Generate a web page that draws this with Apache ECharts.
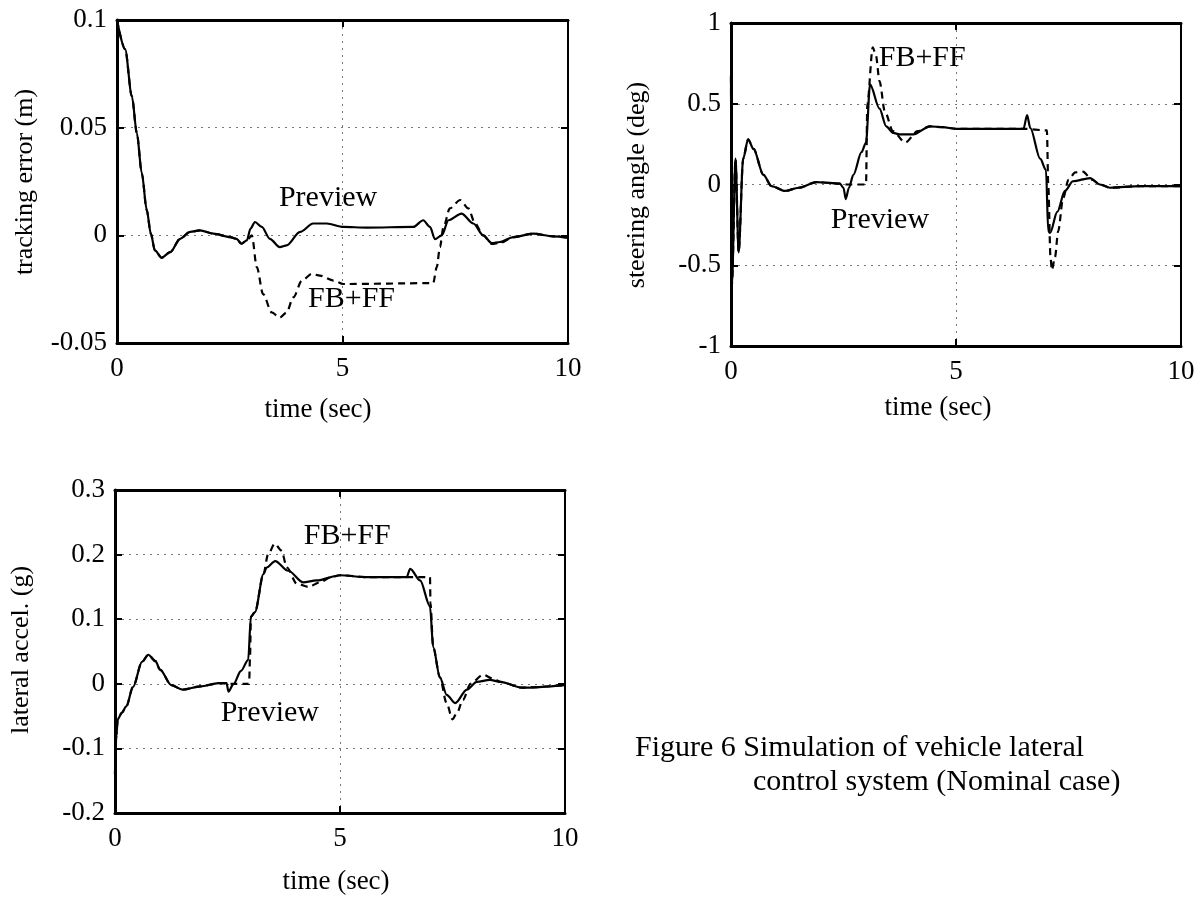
<!DOCTYPE html>
<html><head><meta charset="utf-8">
<script src="https://cdn.jsdelivr.net/npm/echarts@6/dist/echarts.min.js"></script>
<style>html,body{margin:0;padding:0;background:#fff}#c{width:1202px;height:904px}</style>
</head><body><div id="c"></div>
<script>
// ---------- data ----------
const timeTicks = [0, 5, 10];
const trackTicks = [-0.05, 0, 0.05, 0.1];
const steerTicks = [-1, -0.5, 0, 0.5, 1];
const accelTicks = [-0.2, -0.1, 0, 0.1, 0.2, 0.3];

// tracking error (m)
const trackPreview = [[0,0.1],[0.18,0.0864],[0.33,0.0646],[0.44,0.0475],[0.55,0.0288],[0.66,0.0117],[0.75,0.0008],[0.84,-0.007],[0.99,-0.0104],[1.18,-0.0078],[1.4,-0.0016],[1.62,0.0016],[1.84,0.0023],[2.14,0.0008],[2.51,-0.0008],[2.65,-0.0016],[2.76,-0.0039],[2.88,-0.0023],[2.96,0.0031],[3.06,0.0062],[3.21,0.0039],[3.39,-0.0016],[3.61,-0.0055],[3.76,-0.0047],[4.06,0.0016],[4.35,0.0055],[4.65,0.0055],[5.02,0.0039],[5.54,0.0036],[6.57,0.0039],[6.79,0.007],[6.94,0.0039],[7.05,-0.0018],[7.2,0.0],[7.35,0.007],[7.64,0.0101],[7.9,0.0055],[8.12,0.0],[8.31,-0.0036],[8.49,-0.0031],[8.79,-0.0008],[9.23,0.0008],[9.67,-0.0005],[10,-0.0011]];
const trackFBFF = [[0,0.1],[0.18,0.0864],[0.33,0.0646],[0.44,0.0475],[0.55,0.0288],[0.66,0.0117],[0.75,0.0008],[0.84,-0.007],[0.99,-0.0104],[1.18,-0.0078],[1.4,-0.0016],[1.62,0.0016],[1.84,0.0023],[2.14,0.0008],[2.51,-0.0008],[2.65,-0.0016],[2.76,-0.0039],[2.88,-0.0023],[2.99,0.0],[3.1,-0.0148],[3.24,-0.0273],[3.43,-0.0358],[3.61,-0.0382],[3.76,-0.0358],[3.91,-0.0288],[4.1,-0.021],[4.32,-0.0179],[4.5,-0.0187],[4.8,-0.021],[5.02,-0.0226],[7.01,-0.0222],[7.09,-0.0148],[7.16,-0.0055],[7.24,0.0039],[7.38,0.0125],[7.61,0.0164],[7.79,0.0125],[7.94,0.0055],[8.12,0.0],[8.31,-0.004],[8.49,-0.0035],[8.79,-0.0008],[9.23,0.0008],[9.67,-0.0005],[10,-0.0011]];

// steering angle (deg)
const steerPreview = [[0,0.67],[0.02,-0.62],[0.1,0.16],[0.17,-0.42],[0.27,0.16],[0.38,0.28],[0.5,0.22],[0.72,0.06],[0.9,-0.01],[1.2,-0.04],[1.5,-0.02],[1.9,0.015],[2.2,0.01],[2.42,0.005],[2.5,-0.02],[2.55,-0.09],[2.62,-0.02],[2.72,0.06],[2.9,0.2],[3.0,0.26],[3.09,0.62],[3.3,0.47],[3.45,0.36],[3.6,0.32],[3.75,0.31],[4.05,0.31],[4.42,0.36],[4.7,0.355],[5.0,0.345],[6.5,0.345],[6.58,0.43],[6.65,0.35],[6.87,0.16],[7.0,0.09],[7.05,-0.29],[7.09,-0.3],[7.25,-0.17],[7.42,-0.04],[7.6,0.02],[7.98,0.04],[8.2,0.0],[8.42,-0.02],[9.09,-0.01],[10,-0.01]];
const steerFBFF = [[0,0.67],[0.02,-0.62],[0.1,0.16],[0.17,-0.42],[0.27,0.16],[0.38,0.28],[0.5,0.22],[0.72,0.06],[0.9,-0.01],[1.2,-0.04],[1.5,-0.02],[1.9,0.015],[2.2,0.01],[2.42,0.005],[2.6,0.0],[3.0,0.0],[3.03,0.5],[3.15,0.85],[3.22,0.8],[3.3,0.64],[3.42,0.45],[3.6,0.33],[3.87,0.26],[4.15,0.33],[4.42,0.36],[4.7,0.355],[5.0,0.345],[6.5,0.345],[7.02,0.335],[7.05,0.0],[7.1,-0.45],[7.13,-0.53],[7.2,-0.45],[7.27,-0.29],[7.38,-0.085],[7.5,0.03],[7.65,0.075],[7.82,0.08],[8.02,0.03],[8.2,0.0],[8.42,-0.02],[9.09,-0.01],[10,-0.01]];

// lateral accel. (g)
const accelPreview = [[0,-0.14],[0.03,-0.08],[0.06,-0.055],[0.15,-0.045],[0.25,-0.035],[0.4,-0.005],[0.6,0.034],[0.74,0.045],[0.9,0.035],[1.0,0.022],[1.25,-0.002],[1.5,-0.009],[1.9,-0.004],[2.3,0.001],[2.48,0.001],[2.52,-0.012],[2.63,-0.001],[2.8,0.02],[2.96,0.037],[3.02,0.104],[3.11,0.111],[3.3,0.17],[3.37,0.18],[3.56,0.19],[3.85,0.175],[4.18,0.157],[4.48,0.16],[5.0,0.168],[5.6,0.165],[6.48,0.165],[6.56,0.178],[6.78,0.16],[7.0,0.12],[7.07,0.057],[7.22,0.01],[7.37,-0.017],[7.56,-0.03],[7.82,-0.009],[8.04,0.003],[8.33,0.006],[8.56,0.003],[9.05,-0.006],[10,-0.002]];
const accelFBFF = [[0,-0.14],[0.03,-0.08],[0.06,-0.055],[0.15,-0.045],[0.25,-0.035],[0.4,-0.005],[0.6,0.034],[0.74,0.045],[0.9,0.035],[1.0,0.022],[1.25,-0.002],[1.5,-0.009],[1.9,-0.004],[2.3,0.001],[2.6,0.0],[2.98,0.0],[3.0,0.04],[3.02,0.104],[3.11,0.111],[3.3,0.17],[3.4,0.2],[3.55,0.217],[3.7,0.206],[3.82,0.18],[4.04,0.155],[4.3,0.15],[4.55,0.157],[4.8,0.165],[5.0,0.168],[5.6,0.165],[7.0,0.165],[7.01,0.125],[7.07,0.057],[7.22,0.01],[7.37,-0.03],[7.5,-0.055],[7.6,-0.045],[7.73,-0.025],[7.9,0.0],[8.18,0.014],[8.4,0.008],[8.56,0.003],[9.05,-0.006],[10,-0.002]];

// annotations [t, value, text]
const trackNotes = [[4.68, 0.0173, 'Preview'], [5.2, -0.0294, 'FB+FF']];
const steerNotes = [[4.25, 0.78, 'FB+FF'], [3.31, -0.22, 'Preview']];
const accelNotes = [[5.16, 0.228, 'FB+FF'], [3.44, -0.045, 'Preview']];

const yTitles = ['tracking error (m)', 'steering angle (deg)', 'lateral accel. (g)'];
const xTitle = 'time (sec)';
const captionLines = ['Figure 6 Simulation of vehicle lateral', 'control system (Nominal case)'];

// ---------- chart ----------
const FONT = 'Liberation Serif';
const chart = echarts.init(document.getElementById('c'), null, {renderer: 'canvas'});

const grids = [
  {left: 117, top: 20, width: 451, height: 323},
  {left: 731, top: 23, width: 450, height: 323},
  {left: 115, top: 490, width: 450, height: 323}
];
const yRanges = [trackTicks, steerTicks, accelTicks];

const xAxes = [], yAxes = [], series = [];
grids.forEach((g, i) => {
  const ticks = yRanges[i];
  const yMin = ticks[0], yMax = ticks[ticks.length - 1];
  const yInt = +(ticks[1] - ticks[0]).toFixed(4);
  const common = {
    gridIndex: i, type: 'value',
    axisLine: {show: true, onZero: false, lineStyle: {color: '#000', width: 3}},
    axisTick: {show: true, inside: true, length: 7, lineStyle: {color: '#000', width: 2}},
    splitLine: {show: false}
  };
  xAxes.push(Object.assign({}, common, {
    position: 'bottom', min: timeTicks[0], max: timeTicks[timeTicks.length - 1], interval: timeTicks[1] - timeTicks[0],
    axisLabel: {show: true, margin: 12, color: '#000', fontFamily: FONT, fontSize: 27},
    splitLine: {show: true, lineStyle: {color: '#777', type: [2, 5], width: 1}}
  }));
  xAxes.push(Object.assign({}, common, {
    position: 'top', min: timeTicks[0], max: timeTicks[timeTicks.length - 1], interval: timeTicks[1] - timeTicks[0],
    axisLabel: {show: false}
  }));
  yAxes.push(Object.assign({}, common, {
    position: 'left', min: yMin, max: yMax, interval: yInt,
    axisLabel: {show: true, margin: 10, color: '#000', fontFamily: FONT, fontSize: 27},
    splitLine: {show: true, lineStyle: {color: '#777', type: [2, 5], width: 1}}
  }));
  yAxes.push(Object.assign({}, common, {
    position: 'right', min: yMin, max: yMax, interval: yInt,
    axisLine: {show: true, onZero: false, lineStyle: {color: '#000', width: 2}},
    axisLabel: {show: false}
  }));
});

const dataSets = [[trackPreview, trackFBFF, trackNotes], [steerPreview, steerFBFF, steerNotes], [accelPreview, accelFBFF, accelNotes]];
dataSets.forEach((d, i) => {
  series.push({
    type: 'line', xAxisIndex: 2 * i, yAxisIndex: 2 * i, data: d[1], showSymbol: false,
    smooth: 0.3, smoothMonotone: 'x', z: 3,
    lineStyle: {color: '#000', width: 2.2, type: [7, 5]}
  });
  series.push({
    type: 'line', xAxisIndex: 2 * i, yAxisIndex: 2 * i, data: d[0], showSymbol: false,
    smooth: 0.3, smoothMonotone: 'x', z: 4,
    lineStyle: {color: '#000', width: 2.2}
  });
  series.push({
    type: 'scatter', xAxisIndex: 2 * i, yAxisIndex: 2 * i, symbolSize: 0, z: 5,
    itemStyle: {color: '#000', opacity: 1},
    data: d[2].map(n => ({value: [n[0], n[1]], name: n[2]})),
    label: {show: true, position: 'inside', formatter: '{b}', color: '#000', opacity: 1, textBorderWidth: 0, fontFamily: FONT, fontSize: 30}
  });
});

const graphics = [
  {type: 'text', x: 25, y: 182, rotation: Math.PI / 2, style: {text: yTitles[0], font: '26px "Liberation Serif"', fill: '#000', textAlign: 'center', textVerticalAlign: 'middle'}},
  {type: 'text', x: 637, y: 185, rotation: Math.PI / 2, style: {text: yTitles[1], font: '26px "Liberation Serif"', fill: '#000', textAlign: 'center', textVerticalAlign: 'middle'}},
  {type: 'text', x: 21, y: 650, rotation: Math.PI / 2, style: {text: yTitles[2], font: '26px "Liberation Serif"', fill: '#000', textAlign: 'center', textVerticalAlign: 'middle'}},
  {type: 'text', x: 318, y: 410, style: {text: xTitle, font: '27px "Liberation Serif"', fill: '#000', textAlign: 'center', textVerticalAlign: 'middle'}},
  {type: 'text', x: 938, y: 408, style: {text: xTitle, font: '27px "Liberation Serif"', fill: '#000', textAlign: 'center', textVerticalAlign: 'middle'}},
  {type: 'text', x: 336, y: 882, style: {text: xTitle, font: '27px "Liberation Serif"', fill: '#000', textAlign: 'center', textVerticalAlign: 'middle'}},
  {type: 'text', x: 635, y: 748, style: {text: captionLines[0], font: '30px "Liberation Serif"', fill: '#000', textAlign: 'left', textVerticalAlign: 'middle'}},
  {type: 'text', x: 753, y: 782, style: {text: captionLines[1], font: '30px "Liberation Serif"', fill: '#000', textAlign: 'left', textVerticalAlign: 'middle'}}
];

chart.setOption({
  backgroundColor: '#fff',
  animation: false,
  grid: grids.map(g => Object.assign({containLabel: false, show: false}, g)),
  xAxis: xAxes,
  yAxis: yAxes,
  series: series,
  graphic: graphics
});
</script>
</body></html>
